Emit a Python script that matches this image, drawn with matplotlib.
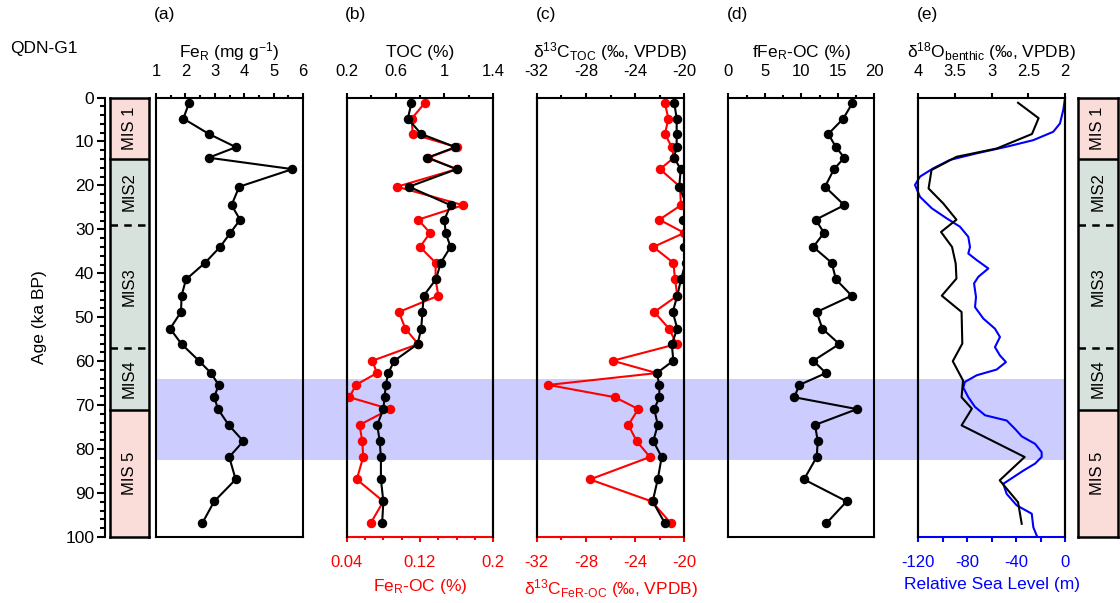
import matplotlib
matplotlib.use("Agg")
import matplotlib.pyplot as plt
from matplotlib.patches import Rectangle
from matplotlib.ticker import MultipleLocator, FixedLocator, FormatStrFormatter, FuncFormatter
import matplotlib.transforms as mtransforms

plt.rcParams['font.family'] = ['Liberation Sans', 'DejaVu Sans']
plt.rcParams['mathtext.default'] = 'regular'
plt.rcParams['axes.linewidth'] = 1.5
plt.rcParams['axes.unicode_minus'] = False

# ---------------- data ----------------
ages = [1.3, 4.8, 8.3, 11.3, 13.7, 16.3, 20.3, 24.5, 27.8, 30.8, 34.0, 37.6, 41.4, 45.1,
        48.8, 52.6, 56.1, 59.9, 62.7, 65.4, 68.2, 70.9, 74.5, 78.2, 81.8, 86.9, 91.9, 96.9]
fer = [2.12, 1.93, 2.80, 3.72, 2.79, 5.64, 3.83, 3.57, 3.86, 3.53, 3.18, 2.67, 2.02, 1.87,
       1.85, 1.48, 1.87, 2.46, 2.87, 3.13, 2.98, 3.11, 3.47, 3.97, 3.49, 3.71, 2.98, 2.57]
toc = [0.73, 0.70, 0.81, 1.09, 0.86, 1.10, 0.71, 1.05, 1.00, 1.01, 1.05, 0.97, 0.93, 0.83,
       0.82, 0.81, 0.78, 0.59, 0.54, 0.52, 0.51, 0.50, 0.45, 0.47, 0.48, 0.48, 0.50, 0.49]
fer_oc = [0.125, 0.111, 0.112, 0.160, 0.129, 0.160, 0.095, 0.167, 0.118, 0.131, 0.120, 0.137,
          0.137, 0.140, 0.097, 0.104, 0.118, 0.068, 0.073, 0.050, 0.043, 0.087, 0.054, 0.057,
          0.058, 0.051, 0.080, 0.066]
d13c_toc = [-20.81, -20.62, -20.62, -20.62, -20.84, -20.29, -20.41, -19.80, -20.08, -19.67,
            -20.00, -19.89, -20.27, -20.57, -20.94, -20.57, -21.02, -20.89, -22.24, -22.03,
            -22.03, -22.44, -22.16, -22.52, -21.84, -22.16, -22.57, -21.57]
d13c_feroc = [-21.57, -21.30, -21.57, -21.02, -20.84, -21.98, -20.35, -20.27, -22.03, -20.00,
              -22.52, -20.89, -20.75, -20.57, -22.44, -21.24, -20.62, -25.82, -22.24, -31.05,
              -25.63, -23.74, -24.55, -23.87, -22.79, -27.67, -22.65, -21.08]
ffer_oc = [16.99, 15.75, 13.70, 14.75, 15.89, 14.48, 13.25, 15.89, 11.97, 13.11, 11.64, 14.16,
           14.75, 16.90, 12.11, 12.88, 15.21, 11.64, 13.38, 9.73, 9.04, 17.63, 11.88, 12.25,
           12.11, 10.37, 16.22, 13.42]

d18o_age = [1.2, 4.7, 8.3, 11.6, 13.5, 16.5, 20.7, 24.1, 27.8, 30.6, 34.0, 37.8, 41.2, 45.1,
            48.8, 56.0, 60.0, 64.4, 68.2, 70.8, 74.6, 81.8, 87.1, 92.1, 97.0]
d18o = [2.64, 2.36, 2.45, 2.93, 3.48, 3.82, 3.86, 3.66, 3.48, 3.69, 3.54, 3.49, 3.48, 3.68,
        3.41, 3.40, 3.53, 3.39, 3.41, 3.27, 3.41, 2.55, 2.89, 2.64, 2.59]

rsl_age = [0.2, 2.8, 5.9, 7.8, 9.7, 11.2, 12.7, 14.2, 16.1, 18.0, 19.9, 22.6, 25.2, 27.5,
           29.4, 31.7, 34.0, 35.5, 37.0, 38.9, 40.8, 42.3, 45.4, 47.7, 50.3, 52.6, 54.5,
           56.8, 58.7, 60.2, 61.9, 63.2, 64.7, 66.0, 68.2, 70.4, 72.3, 73.5, 75.4, 77.1,
           78.8, 80.7, 81.8, 83.3, 84.9, 86.4, 87.9, 90.2, 92.8, 94.7, 97.8, 99.7]
rsl = [0, -1.4, -4.1, -9.6, -25.9, -47.7, -72.2, -94.1, -107.7, -118.6, -122.7, -118.6,
       -109, -96.8, -85.9, -79.1, -77.7, -79.1, -72.2, -62.7, -70.9, -74.4, -72.8, -73.6,
       -66.8, -57.3, -53.2, -57.3, -53.2, -48.3, -55.9, -72.2, -81.8, -83.2, -79.1, -73.6,
       -65.4, -47.7, -40.9, -35.4, -24.5, -19.1, -19.1, -24.5, -34.1, -42.3, -50.5, -47.7,
       -39.5, -27.2, -25.9, -23.1]

mis_bounds = [0, 14, 29, 57, 71, 100]
mis_labels = ['MIS 1', 'MIS2', 'MIS3', 'MIS4', 'MIS 5']
mis_colors = ['#fadcd8', '#d8e2dc', '#d8e2dc', '#d8e2dc', '#fadcd8']
mis_dashed = [False, True, True, False]   # style of inner boundaries 14, 29, 57, 71
band = (64.0, 82.4)

toc_ticks = [0.2, 0.6, 1.0, 1.4]
feroc_ticks = [0.04, 0.12, 0.2]

# ---------------- layout ----------------
W, H = 1120, 603
fig = plt.figure(figsize=(W / 100, H / 100), dpi=100)

y_top, y_bot = 97.5, 537.0
def rect(x0, x1):
    return [x0 / W, 1 - y_bot / H, (x1 - x0) / W, (y_bot - y_top) / H]

TFS = 12      # tick labels
LFS = 12.5    # axis titles
RED = '#ff0000'
BLUE = '#0000ff'
HY = '\u2010'
MAJ, MIN, PAD = 3.8, 2.3, 9.5

def ticks_x(ax, color='black'):
    ax.tick_params(axis='x', which='major', direction='out', length=MAJ, width=1.5,
                   colors=color, labelsize=TFS, pad=PAD)
    ax.tick_params(axis='x', which='minor', direction='out', length=MIN, width=1.5,
                   colors=color)

def style_top(ax, lo, hi, major, minor):
    ax.set_xlim(lo, hi)
    ax.xaxis.set_ticks_position('top')
    ax.xaxis.set_label_position('top')
    if isinstance(major, list):
        ax.xaxis.set_major_locator(FixedLocator(major))
    else:
        ax.xaxis.set_major_locator(MultipleLocator(major))
    if minor:
        ax.xaxis.set_minor_locator(MultipleLocator(minor))
    ticks_x(ax)

def hide_y(ax):
    ax.tick_params(axis='y', which='both', left=False, right=False,
                   labelleft=False, labelright=False)

def make_panel(x0, x1):
    ax = fig.add_axes(rect(x0, x1))
    ax.set_facecolor('none')
    ax.set_ylim(100, 0)
    hide_y(ax)
    return ax

def bottom_axis(ax, color, label):
    ax.spines['bottom'].set_color(color)
    ax.spines['top'].set_visible(False)
    ticks_x(ax, color)
    ax.set_xlabel(label, fontsize=LFS, color=color, labelpad=5)

def add_twin(ax):
    ax2 = ax.twiny()
    ax2.set_facecolor('none')
    ax2.spines['bottom'].set_visible(False)
    hide_y(ax2)
    return ax2

mk = dict(marker='o', markersize=5.8, lw=1.5)
gfmt = FormatStrFormatter('%g')
ifmt = FuncFormatter(lambda v, p: '%d' % round(v))

# Panel (a)
ax_a = make_panel(156, 303)
ax_a.plot(fer, ages, color='black', **mk)
style_top(ax_a, 1, 6, 1, 0.5)
ax_a.xaxis.set_major_formatter(gfmt)
ax_a.set_xlabel('Fe$_{R}$ (mg g$^{-1}$)', fontsize=LFS, labelpad=5)

# Panel (b)
ax_b = make_panel(346.7, 493.3)
ax_b.plot(fer_oc, ages, color=RED, **mk)
ax_b.set_xlim(0.04, 0.2)
ax_b.xaxis.set_major_locator(FixedLocator(feroc_ticks))
ax_b.xaxis.set_minor_locator(MultipleLocator(0.02))
ax_b.xaxis.set_major_formatter(gfmt)
bottom_axis(ax_b, RED, 'Fe$_{R}$' + HY + 'OC (%)')
ax_b2 = add_twin(ax_b)
ax_b2.plot(toc, ages, color='black', **mk)
style_top(ax_b2, 0.2, 1.4, toc_ticks, 0.2)
ax_b2.xaxis.set_major_formatter(gfmt)
ax_b2.set_xlabel('TOC (%)', fontsize=LFS, labelpad=5)

# Panel (c)
ax_c = make_panel(536.7, 684.3)
ax_c.plot(d13c_feroc, ages, color=RED, **mk)
ax_c.set_xlim(-32, -20)
ax_c.xaxis.set_major_locator(MultipleLocator(4))
ax_c.xaxis.set_minor_locator(MultipleLocator(2))
ax_c.xaxis.set_major_formatter(ifmt)
bottom_axis(ax_c, RED, 'δ$^{13}$C$_{FeR' + HY + 'OC}$ (‰, VPDB)')
ax_c2 = add_twin(ax_c)
ax_c2.plot(d13c_toc, ages, color='black', **mk)
style_top(ax_c2, -32, -20, 4, 2)
ax_c2.xaxis.set_major_formatter(ifmt)
ax_c2.set_xlabel('δ$^{13}$C$_{TOC}$ (‰, VPDB)', fontsize=LFS, labelpad=5)

# Panel (d)
ax_d = make_panel(728.3, 874.3)
ax_d.plot(ffer_oc, ages, color='black', **mk)
style_top(ax_d, 0, 20, 5, 2.5)
ax_d.set_xlabel('fFe$_{R}$' + HY + 'OC (%)', fontsize=LFS, labelpad=5)

# Panel (e)
ax_e = make_panel(918.3, 1065)
ax_e.plot(rsl, rsl_age, color=BLUE, lw=1.5, clip_on=False)
ax_e.set_xlim(-120, 0)
ax_e.xaxis.set_major_locator(MultipleLocator(40))
ax_e.xaxis.set_minor_locator(MultipleLocator(20))
ax_e.xaxis.set_major_formatter(ifmt)
bottom_axis(ax_e, BLUE, 'Relative Sea Level (m)')
ax_e.tick_params(axis='x', which='minor', length=MAJ)
ax_e2 = add_twin(ax_e)
ax_e2.plot(d18o, d18o_age, color='black', lw=1.5)
style_top(ax_e2, 4, 2, 0.5, None)
ax_e2.xaxis.set_major_formatter(gfmt)
ax_e2.set_xlabel('δ$^{18}$O$_{benthic}$ (‰, VPDB)', fontsize=LFS, labelpad=5)

# ---------------- MIS bars ----------------
def mis_bar(ax, x0frac, show_axis):
    ax.set_facecolor('none')
    ax.set_ylim(100, 0)
    ax.set_xlim(0, 1)
    blend = mtransforms.blended_transform_factory(ax.transAxes, ax.transData)
    for i, lab in enumerate(mis_labels):
        lo, hi = mis_bounds[i], mis_bounds[i + 1]
        ax.add_patch(Rectangle((x0frac, lo), 1 - x0frac, hi - lo, transform=blend,
                               facecolor=mis_colors[i], edgecolor='none', zorder=1))
        ax.text((x0frac + 1) / 2, (lo + hi) / 2, lab, rotation=90, ha='center',
                va='center', fontsize=12, transform=blend, zorder=3)
    kw = dict(color='black', lw=1.8, transform=blend, zorder=4, clip_on=False,
              solid_capstyle='projecting')
    ax.plot([x0frac, x0frac], [0, 100], **kw)
    ax.plot([1, 1], [0, 100], **kw)
    ax.plot([x0frac, 1], [0, 0], **kw)
    ax.plot([x0frac, 1], [100, 100], **kw)
    for b, dashed in zip(mis_bounds[1:-1], mis_dashed):
        ax.plot([x0frac, 1], [b, b], color='black', lw=1.8, transform=blend, zorder=4,
                linestyle=(0, (3, 2.5)) if dashed else '-')
    for s in ['top', 'right', 'bottom']:
        ax.spines[s].set_visible(False)
    ax.tick_params(axis='x', which='both', bottom=False, labelbottom=False)
    if show_axis:
        ax.yaxis.set_major_locator(MultipleLocator(10))
        ax.yaxis.set_minor_locator(MultipleLocator(2))
        ax.tick_params(axis='y', which='major', direction='out', length=5.8, width=1.5,
                       labelsize=12.5, pad=2)
        ax.tick_params(axis='y', which='minor', direction='out', length=3.6, width=1.5)
        ax.set_ylabel('Age (ka BP)', fontsize=LFS, labelpad=13)
    else:
        ax.spines['left'].set_visible(False)
        hide_y(ax)

ax_m = fig.add_axes(rect(105, 149))
mis_bar(ax_m, 5 / 44, True)
ax_m2 = fig.add_axes(rect(1078, 1118))
mis_bar(ax_m2, 0.0, False)

# ---------------- highlight band ----------------
band_tr = mtransforms.blended_transform_factory(fig.transFigure, ax_a.transData)
fig.add_artist(Rectangle((156 / W, band[0]), (1065 - 156) / W, band[1] - band[0],
                         transform=band_tr, facecolor='#ccccff', edgecolor='none',
                         zorder=-5))

# ---------------- texts ----------------
for ax, lab in zip([ax_a, ax_b, ax_c, ax_d, ax_e], ['(a)', '(b)', '(c)', '(d)', '(e)']):
    pos = ax.get_position()
    fig.text(pos.x0 + 9 / W, 1 - 15 / H, lab, ha='center', va='center', fontsize=12.5)
fig.text(10 / W, 1 - 48 / H, 'QDN-G1', ha='left', va='center', fontsize=12.5)

fig.savefig('out.png', dpi=100)
